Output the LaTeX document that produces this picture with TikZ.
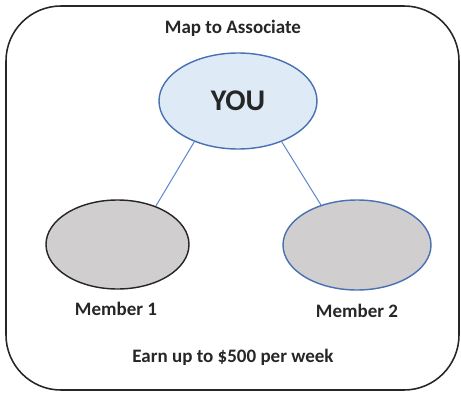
\documentclass[tikz,border=0pt]{standalone}
\usepackage{xcolor}
\usepackage{fontspec}
\setmainfont{Carlito}
\usepackage{tikz}
\usetikzlibrary{shapes.geometric}

\definecolor{youfill}{HTML}{DEEAF6}
\definecolor{youline}{HTML}{4A72B2}
\definecolor{linkline}{HTML}{5B86CC}
\definecolor{memberfill}{HTML}{D0CECE}

\begin{document}
\begin{tikzpicture}[
		x=1pt, y=1pt,
		line width=0.5mm,
		every node/.style={font=\fontsize{19}{21}\selectfont\bfseries, text=black!85},
		frame/.style={draw=black!85, line width=0.55mm, rounded corners=55pt},
		you/.style={ellipse, draw=youline, fill=youfill, inner sep=0pt, minimum width=158pt, minimum height=96pt, font=\fontsize{30}{32}\selectfont\bfseries},
		member1/.style={ellipse, draw=black!85, fill=memberfill, inner sep=0pt, minimum width=143pt, minimum height=89pt},
		member2/.style={ellipse, draw=youline, fill=memberfill, inner sep=0pt, minimum width=148pt, minimum height=90pt},
		link/.style={draw=linkline, line width=0.35mm}
		]

	\useasboundingbox (0, 0) rectangle (461, 392);

	% Frame
	\draw[frame] (6, 2) rectangle (459, 386);
	\node (title) at (233, 364) {Map to Associate};

	% Ellipses
	\node[you] (you) at (238, 291) {YOU};
	\node[member1] (m1) at (117.5, 147.5) {};
	\node[member2] (m2) at (357, 147) {};

	% Links
	\draw[link] (you.223) -- (m1.45);
	\draw[link] (you.317.6) -- (m2.132.7);

	% Labels
	\node (m1label) at (116, 83) {Member 1};
	\node (m2label) at (357, 81) {Member 2};
	\node (earn) at (233, 35) {Earn up to \$500 per week};

\end{tikzpicture}
\end{document}
